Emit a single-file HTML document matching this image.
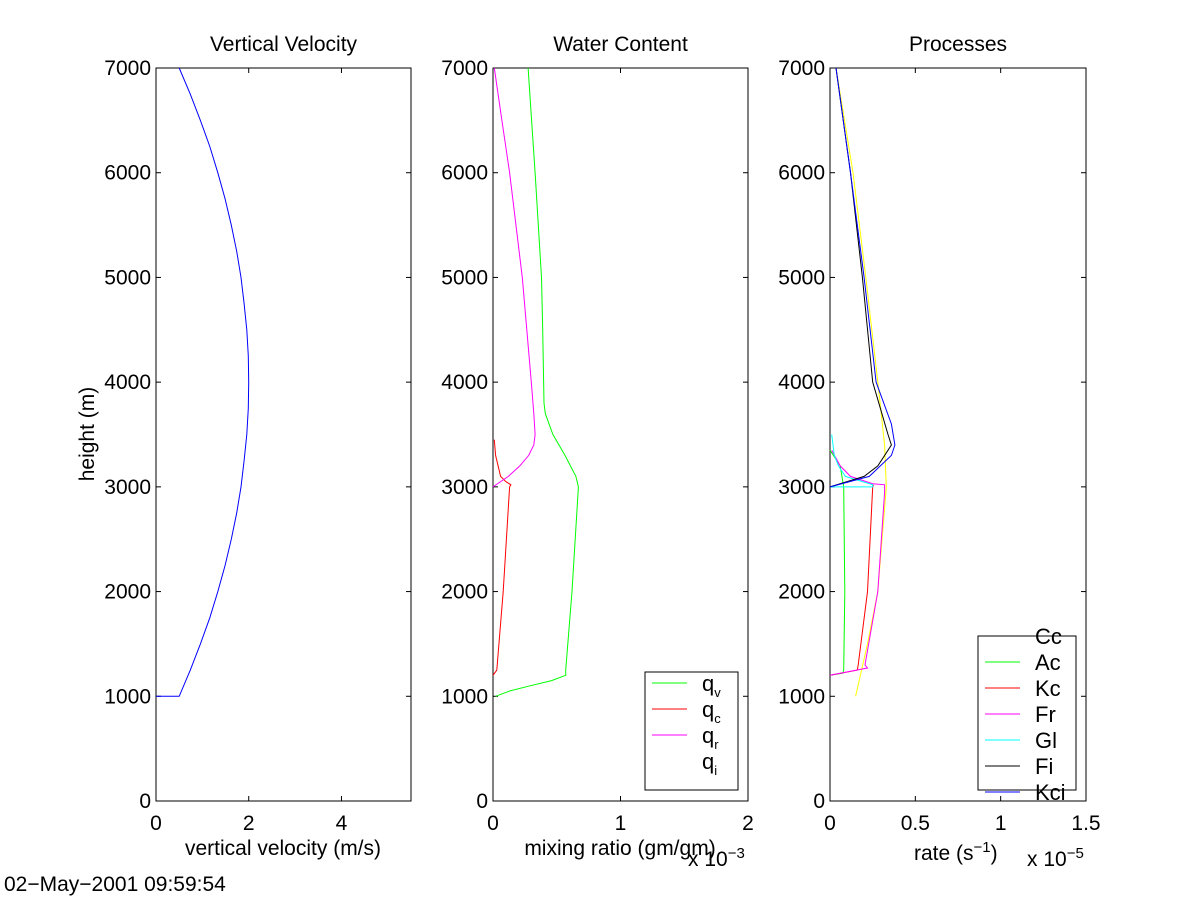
<!DOCTYPE html>
<html><head><meta charset="utf-8"><style>
body{margin:0;background:#fff;}
svg{display:block;font-family:"Liberation Sans",Arial,sans-serif;}
</style></head><body>
<svg id="fig" width="1201" height="901" xmlns="http://www.w3.org/2000/svg">
<rect width="1201" height="901" fill="#fff"/>
</svg>
<script>
// ---- data ----
const heightTicks=[0,1000,2000,3000,4000,5000,6000,7000];
const velZ=[1000,1000,1250,1500,1750,2000,2250,2500,2750,3000,3250,3500,3750,4000,4250,4500,4750,5000,5250,5500,5750,6000,6250,6500,6750,7000];
const velW=[0,0.5,0.74,0.958,1.16,1.333,1.49,1.625,1.74,1.833,1.90,1.958,1.99,2,1.99,1.958,1.90,1.833,1.74,1.625,1.49,1.333,1.16,0.958,0.74,0.5];
const qvZ=[1000,1050,1100,1150,1200,1250,2000,3000,3100,3300,3500,3700,3800,4500,5000,6000,7000];
const qvV=[0.02,0.13,0.29,0.46,0.57,0.57,0.62,0.67,0.65,0.565,0.47,0.41,0.40,0.39,0.38,0.33,0.275];
const qcZ=[1200,1250,2000,3000,3020,3050,3100,3300,3450];
const qcV=[0.0,0.03,0.08,0.13,0.14,0.1,0.06,0.02,0.01];
const qrZ=[3000,3100,3200,3300,3400,3500,3700,4000,5000,6000,6500,7000];
const qrV=[0,0.12,0.21,0.28,0.32,0.33,0.32,0.3,0.23,0.13,0.07,0.01];
const ccZ=[1000,1500,2000,3000,3400,4000,5000,6000,7000];
const ccV=[0.15,0.22,0.28,0.33,0.32,0.28,0.21,0.135,0.035];
const acZ=[1200,1220,1250,2000,3000,3050,3200,3300,3350];
const acV=[0,0.075,0.08,0.087,0.08,0.075,0.06,0.02,0];
const kcZ=[1200,1250,1300,2000,3000,3020];
const kcV=[0,0.16,0.165,0.22,0.25,0.255];
const frZ=[1200,1270,1300,2000,2950,3020,3030,3100,3200,3350];
const frV=[0,0.22,0.205,0.28,0.32,0.32,0.25,0.12,0.06,0.01];
const glZ=[3000,3000,3020,3100,3200,3300,3500];
const glV=[0,0.25,0.25,0.09,0.05,0.025,0.01];
const fiZ=[3000,3100,3200,3400,3500,4000,5000,6000,7000];
const fiV=[0,0.2,0.28,0.36,0.34,0.25,0.19,0.12,0.035];
const kciZ=[3000,3100,3300,3400,3600,4000,5000,6000,7000];
const kciV=[0,0.23,0.36,0.38,0.36,0.27,0.2,0.12,0.035];

const NS="http://www.w3.org/2000/svg";
const FS=21;
const svg=document.getElementById('fig');
function el(tag,attrs,parent){const e=document.createElementNS(NS,tag);for(const k in attrs)e.setAttribute(k,attrs[k]);(parent||svg).appendChild(e);return e;}
function txt(s,x,y,anchor,parent){const t=el('text',{x:x,y:y,'font-size':FS,'text-anchor':anchor||'start',fill:'#000'},parent);t.textContent=s;return t;}
const Y0=801,Y1=68;
const ys=z=>Y0-(z/7000)*(Y0-Y1);

function panel(name,x0,x1,xmax,xticks,xlabels,title){
  const g=el('g',{});
  
  
  const xs=v=>x0+(v/xmax)*(x1-x0);
  el('rect',{x:x0,y:Y1,width:x1-x0,height:Y0-Y1,fill:'none',stroke:'#000','stroke-width':1},g);
  heightTicks.forEach(t=>{const y=ys(t);
    el('line',{x1:x0,x2:x0+5,y1:y,y2:y,stroke:'#000'},g);
    el('line',{x1:x1-5,x2:x1,y1:y,y2:y,stroke:'#000'},g);
    const l=txt(String(t),x0-5,y+7,'end',g);
    
    
  });
  xticks.forEach((t,i)=>{const x=xs(t);
    el('line',{x1:x,x2:x,y1:Y0,y2:Y0-5,stroke:'#000'},g);
    el('line',{x1:x,x2:x,y1:Y1,y2:Y1+5,stroke:'#000'},g);
    const l=txt(xlabels[i],x,Y0+29,'middle',g);
    
    
  });
  const tt=txt(title,(x0+x1)/2,51,'middle',g);
  
  
  return {g,xs};
}
function line(p,vals,zs,color,name){
  const pts=vals.map((v,i)=>p.xs(v).toFixed(1)+','+ys(zs[i]).toFixed(1)).join(' ');
  const pl=el('polyline',{points:pts,fill:'none',stroke:color,'stroke-width':1},p.g);
  
  
}

// Panel 1
const p1=panel('velocity-panel',156,411,5.5,[0,2,4],['0','2','4'],'Vertical Velocity');
line(p1,velW,velZ,'#0000ff','velocity-line');
let t=txt('vertical velocity (m/s)',283,855,'middle',p1.g);

t=txt('height (m)',0,0,'middle',p1.g);t.setAttribute('transform','translate(94,434) rotate(-90)');


// Panel 2
const p2=panel('water-content-panel',493,748,2,[0,1,2],['0','1','2'],'Water Content');
line(p2,qvV,qvZ,'#00ff00','qv-line');
line(p2,qcV,qcZ,'#ff0000','qc-line');
line(p2,qrV,qrZ,'#ff00ff','qr-line');
t=txt('mixing ratio (gm/gm)',620,855,'middle',p2.g);

t=el('text',{x:688,y:866,'font-size':FS},p2.g);t.innerHTML='x 10<tspan dy="-8" font-size="15">−3</tspan>';


// Panel 3
const p3=panel('processes-panel',830,1086,1.5,[0,0.5,1,1.5],['0','0.5','1','1.5'],'Processes');
line(p3,ccV,ccZ,'#ffff00','cc-line');
line(p3,acV,acZ,'#00ff00','ac-line');
line(p3,kcV,kcZ,'#ff0000','kc-line');
line(p3,frV,frZ,'#ff00ff','fr-line');
line(p3,glV,glZ,'#00ffff','gl-line');
line(p3,fiV,fiZ,'#000000','fi-line');
line(p3,kciV,kciZ,'#0000ff','kci-line');
t=el('text',{x:914,y:860,'font-size':FS},p3.g);t.innerHTML='rate (s<tspan dy="-8" font-size="15">−1</tspan><tspan dy="8">)</tspan>';

t=el('text',{x:1027,y:866,'font-size':FS},p3.g);t.innerHTML='x 10<tspan dy="-8" font-size="15">−5</tspan>';


// Legends
function legend(name,x,y,w,h,entries,startY,step){
  const g=el('g',{});
  
  
  el('rect',{x:x,y:y,width:w,height:h,fill:'#fff',stroke:'#000'},g);
  entries.forEach((e,i)=>{const yy=startY+i*step;
    if(e[1])el('line',{x1:x+7,x2:x+42,y1:yy,y2:yy,stroke:e[1]},g);
    const tx=el('text',{x:x+57,y:yy+8,'font-size':22},g);
    tx.innerHTML=e[0];
    
    
  });
}
legend('water-legend',645,672,93,118,[['q<tspan dy="6" font-size="13">v</tspan>','#00ff00'],['q<tspan dy="6" font-size="13">c</tspan>','#ff0000'],['q<tspan dy="6" font-size="13">r</tspan>','#ff00ff'],['q<tspan dy="6" font-size="13">i</tspan>',null]],683,26);
legend('process-legend',978,636,98,154,[['Cc',null],['Ac','#00ff00'],['Kc','#ff0000'],['Fr','#ff00ff'],['Gl','#00ffff'],['Fi','#000000'],['Kci','#0000ff']],636,26);

t=txt('02−May−2001 09:59:54',4,891,'start');

</script>
</body></html>
